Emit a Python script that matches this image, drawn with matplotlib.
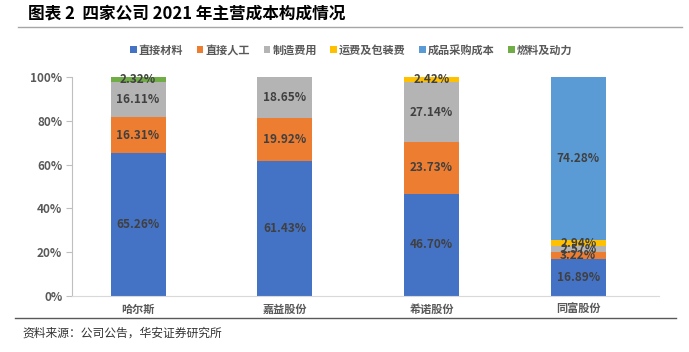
import numpy as np
import matplotlib.pyplot as plt
from matplotlib.lines import Line2D

plt.rcParams['font.family'] = ['Noto Sans CJK SC', 'DejaVu Sans']

## DATA ##
companies = ['哈尔斯', '嘉益股份', '希诺股份', '同富股份']
series_names = ['直接材料', '直接人工', '制造费用', '运费及包装费', '成品采购成本', '燃料及动力']
material = [65.26, 61.43, 46.70, 16.89]
labor = [16.31, 19.92, 23.73, 3.22]
overhead = [16.11, 18.65, 27.14, 2.57]
freight = [0, 0, 2.42, 2.94]
purchase = [0, 0, 0, 74.28]
fuel = [2.32, 0, 0, 0]
yticks = [0, 20, 40, 60, 80, 100]

colors = ['#4472C4', '#ED7D31', '#B4B4B4', '#FFC000', '#5B9BD5', '#70AD47']

fig = plt.figure(figsize=(6.89, 3.52), dpi=100)
ax = fig.add_axes([72/689, 1-296/352, 587/689, 219/352])

x = np.arange(len(companies))
bottom = np.zeros(len(companies))
for name, vals, c in zip(series_names, [material, labor, overhead, freight, purchase, fuel], colors):
    vals = np.array(vals, dtype=float)
    ax.bar(x, vals, 0.375, bottom=bottom, color=c, label=name, zorder=2)
    for i, v in enumerate(vals):
        if v > 0:
            ax.text(x[i], bottom[i] + v/2, f'{v:.2f}%', ha='center', va='center',
                    fontsize=8.5, fontweight='bold', color='#404040', zorder=3)
    bottom += vals

ax.set_xlim(-0.45, 3.55)
ax.set_ylim(0, 100)
ax.set_yticks(yticks)
ax.set_yticklabels([f'{t}%' for t in yticks], fontsize=8.5, fontweight='bold', color='#595959')
ax.set_xticks(x)
ax.set_xticklabels(companies, fontsize=8, fontweight='bold', color='#595959')
ax.tick_params(axis='x', length=0, pad=5)
ax.tick_params(axis='y', length=4, color='#BFBFBF', pad=3)
for s in ['top', 'right']:
    ax.spines[s].set_visible(False)
ax.spines['left'].set_color('#BFBFBF')
ax.spines['bottom'].set_color('#D9D9D9')

handles, labels = ax.get_legend_handles_labels()
leg = fig.legend(handles, labels, loc='center', bbox_to_anchor=(0.51, 1-50/352), ncol=6,
                 frameon=False, fontsize=8, handlelength=0.6, handleheight=0.6,
                 handletextpad=0.2, columnspacing=1.2)
for t in leg.get_texts():
    t.set_color('#595959')
    t.set_fontweight('bold')

fig.text(28/689, 1-14/352, '图表 2  四家公司 2021 年主营成本构成情况', fontsize=12,
         fontweight='bold', va='center', ha='left', color='black')
fig.add_artist(Line2D([18/689, 682/689], [1-27/352, 1-27/352], color='#A6A6A6', lw=1))
fig.add_artist(Line2D([15/689, 676/689], [1-318/352, 1-318/352], color='#595959', lw=1))
fig.text(22/689, 1-333/352, '资料来源：公司公告，华安证券研究所', fontsize=8.5,
         va='center', ha='left', color='#333333')

fig.savefig('out.png', dpi=100)
